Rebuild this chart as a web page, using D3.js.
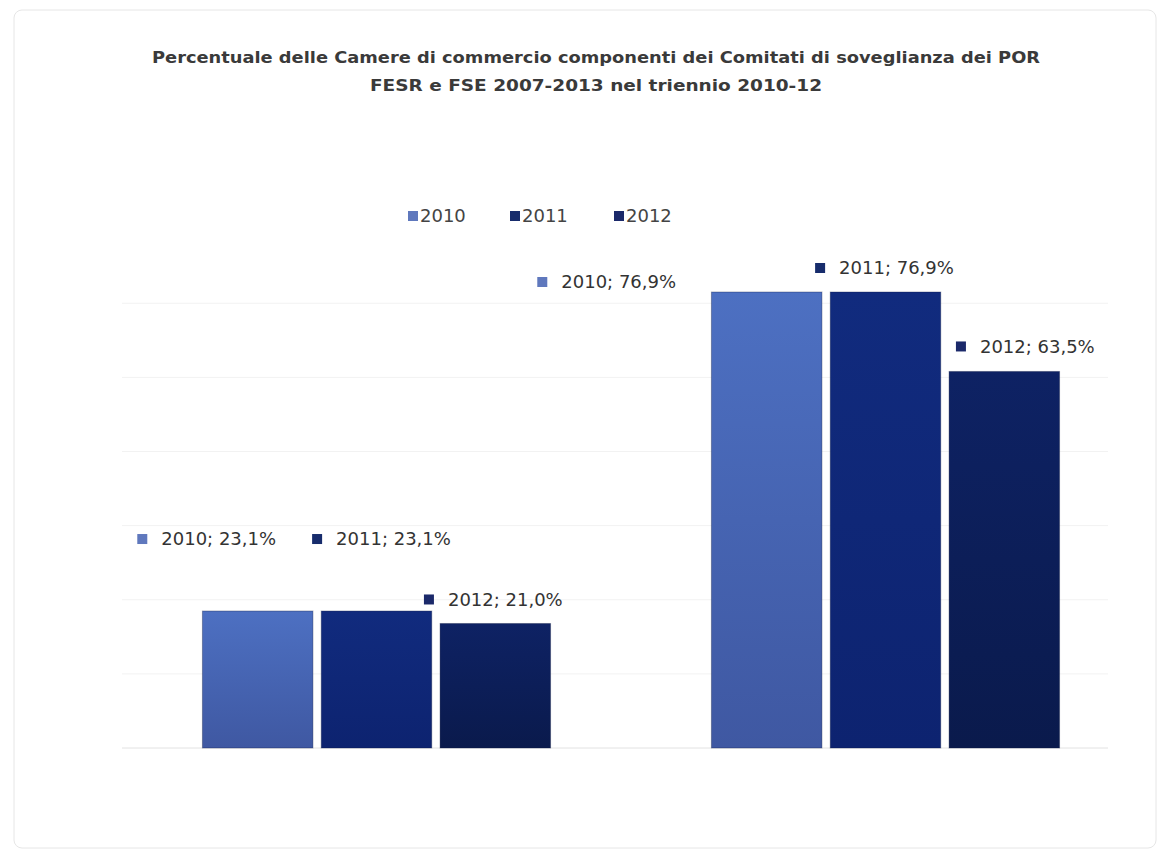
<!DOCTYPE html>
<html>
<head>
<meta charset="utf-8">
<script src="https://cdn.jsdelivr.net/npm/d3@7"></script>
<style>
  html, body { margin: 0; padding: 0; background: #ffffff; }
  svg { display: block; }
</style>
</head>
<body>
<svg id="chart" width="1168" height="858"></svg>
<script>
// ---- data ----
const titleLines = [
  "Percentuale delle Camere di commercio componenti dei Comitati di soveglianza dei POR",
  "FESR e FSE 2007-2013 nel triennio 2010-12"
];
const categories = ["Gruppo A", "Gruppo B"];
const seriesNames = ["2010", "2011", "2012"];
const values2010 = [23.1, 76.9];
const values2011 = [23.1, 76.9];
const values2012 = [21.0, 63.5];
const gridValues = [0, 12.5, 25, 37.5, 50, 62.5, 75];

// ---- layout / style (not data) ----
const W = 1168, H = 858;
const colorsTop = ["#4d70c2", "#112b7e", "#0e2264"];
const colorsBot = ["#3f58a2", "#0d2370", "#0a1a4c"];
const markerColors = ["#5f78bd", "#172c6c", "#1b296a"];
// data-label offsets relative to bar centre / bar top, per series then per category
const labelDx = [[-51, -160], [5, -1], [-2, 21]];
const labelDy = [[-72, -10], [-72, -24], [-24, -25]];

const seriesValues = [values2010, values2011, values2012];
const svg = d3.select("#chart");

// chart area border
svg.append("rect")
  .attr("x", 14).attr("y", 10).attr("width", 1142).attr("height", 838)
  .attr("rx", 8).attr("fill", "none").attr("stroke", "#e6e6e6").attr("stroke-width", 1);

// title
const titleY = [63, 91];
const titleW = [888, 452];
svg.selectAll("text.title").data(titleLines).join("text")
  .attr("class", "title")
  .attr("x", 596).attr("y", (d, i) => titleY[i])
  .attr("text-anchor", "middle")
  .attr("textLength", (d, i) => titleW[i])
  .attr("lengthAdjust", "spacingAndGlyphs")
  .style("font-family", "'DejaVu Sans', sans-serif")
  .style("font-size", "16px")
  .style("font-weight", "bold")
  .style("fill", "#3a3a3a")
  .text(d => d);

// scales
const x0 = d3.scaleBand().domain(categories).range([122, 1140]).paddingInner(0.316).paddingOuter(0.158);
const x1 = d3.scaleBand().domain(seriesNames).range([0, x0.bandwidth()]).paddingInner(0.07);
const y = d3.scaleLinear().domain([0, 76.9]).range([748, 292]);

// gradients
const defs = svg.append("defs");
seriesNames.forEach((s, i) => {
  const g = defs.append("linearGradient").attr("id", "grad" + i)
    .attr("x1", 0).attr("y1", 0).attr("x2", 0).attr("y2", 1);
  g.append("stop").attr("offset", "0%").attr("stop-color", colorsTop[i]);
  g.append("stop").attr("offset", "100%").attr("stop-color", colorsBot[i]);
});

// gridlines
svg.append("g").selectAll("line").data(gridValues).join("line")
  .attr("x1", 122).attr("x2", 1108)
  .attr("y1", d => y(d)).attr("y2", d => y(d))
  .attr("stroke", d => d === 0 ? "#e2e2e2" : "#f2f2f2")
  .attr("stroke-width", 1);

// bars
const rows = [];
categories.forEach((c, ci) => {
  seriesNames.forEach((s, si) => {
    rows.push({ c, ci, s, si, v: seriesValues[si][ci] });
  });
});

svg.append("g").selectAll("rect").data(rows).join("rect")
  .attr("x", d => x0(d.c) + x1(d.s))
  .attr("y", d => y(d.v))
  .attr("width", x1.bandwidth())
  .attr("height", d => y(0) - y(d.v))
  .attr("fill", d => `url(#grad${d.si})`)
  .attr("stroke", "#0b1740").attr("stroke-opacity", 0.35).attr("stroke-width", 1);

// data labels (marker + text), centred on computed point
const fmt = v => d3.format(".1f")(v).replace(".", ",") + "%";
const lab = svg.append("g").selectAll("g").data(rows).join("g")
  .attr("transform", d => {
    const cx = x0(d.c) + x1(d.s) + x1.bandwidth() / 2 + labelDx[d.si][d.ci];
    const cy = y(d.v) + labelDy[d.si][d.ci];
    return `translate(${cx},${cy})`;
  });
lab.append("text")
  .attr("x", 0).attr("y", 0)
  .attr("dy", "0.35em")
  .attr("text-anchor", "middle")
  .style("font-family", "'DejaVu Sans', sans-serif")
  .style("font-size", "18px")
  .style("fill", "#333333")
  .text(d => `${d.s}; ${fmt(d.v)}`)
  .each(function (d) {
    const w = this.getComputedTextLength();
    d3.select(this).attr("x", 12);
    d3.select(this.parentNode).append("rect")
      .attr("x", 12 - w / 2 - 24).attr("y", -5).attr("width", 10).attr("height", 10)
      .attr("fill", markerColors[d.si]);
  });

// legend
const legendX = [408, 510, 614];
const leg = svg.append("g").selectAll("g").data(seriesNames).join("g")
  .attr("transform", (d, i) => `translate(${legendX[i]},216)`);
leg.append("rect").attr("x", 0).attr("y", -5).attr("width", 10).attr("height", 10)
  .attr("fill", (d, i) => markerColors[i]);
leg.append("text").attr("x", 12).attr("dy", "0.35em")
  .style("font-family", "'DejaVu Sans', sans-serif")
  .style("font-size", "18px")
  .style("fill", "#444444")
  .text(d => d);
</script>
</body>
</html>
